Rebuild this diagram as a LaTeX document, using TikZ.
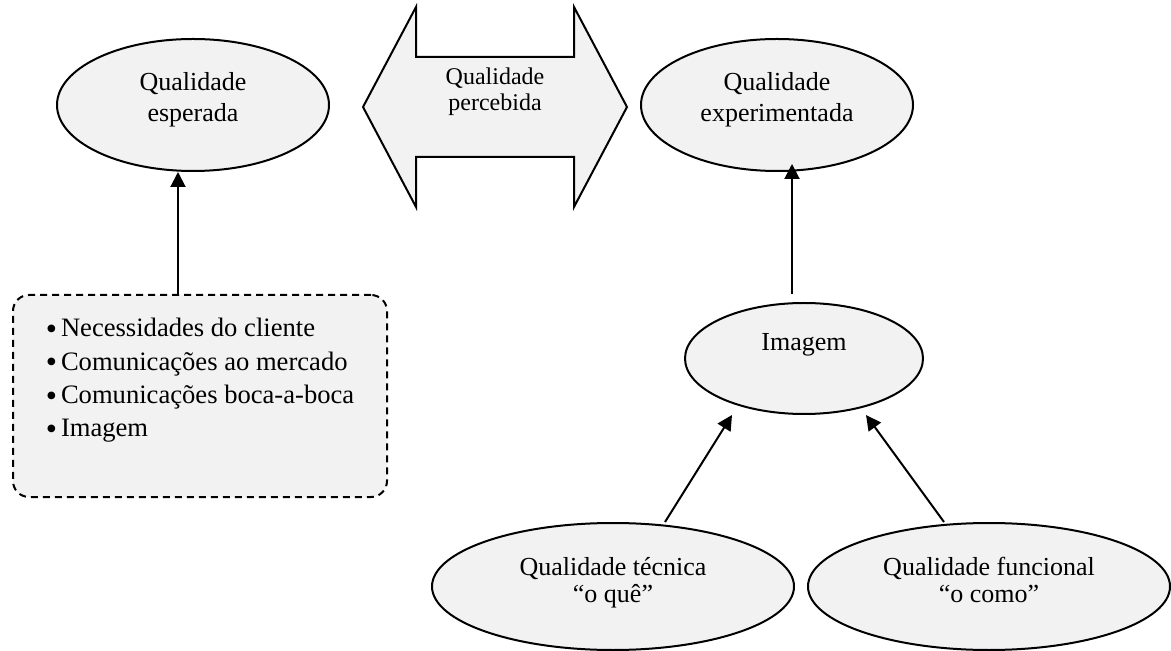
\documentclass[tikz,border=0pt]{standalone}
\usepackage{fontspec}
\setmainfont{Liberation Serif}
\usepackage{xcolor}
\usetikzlibrary{arrows.meta, shapes.geometric}
\definecolor{shapefill}{HTML}{F2F2F2}
\newcommand{\listdot}{\raisebox{-1.2pt}{\fontsize{16}{16}\selectfont\textbullet}\hspace{2pt}}

\begin{document}
\begin{tikzpicture}[
                x = 0.5pt, y = -0.5pt,
                qualnode/.style = {
                    ellipse,
                    draw            = black,
                    line width      = 1pt,
                    fill            = shapefill,
                    align           = center,
                    inner sep       = 2pt,
                    text depth      = 0pt,
                    font            = \fontsize{13}{15.5}\selectfont
                },
                notebox/.style = {
                    rectangle,
                    rounded corners = 8pt,
                    draw            = black,
                    dash pattern    = on 3.5pt off 2.5pt,
                    line width      = 1pt,
                    fill            = shapefill,
                    align           = left,
                    minimum width   = 187pt,
                    minimum height  = 101pt,
                    text height     = 41pt,
                    text depth      = 0pt,
                    font            = \fontsize{13.3}{16.67}\selectfont
                },
                linkarrow/.style = {-{Triangle[length=7.5pt, width=7.5pt]}, line width = 1pt}
            ]
                \useasboundingbox (0, 0) rectangle (1171, 651);

                % perceived quality, double arrow
                \draw[line width = 1pt, fill = shapefill]
                    (363, 107) -- (416, 7) -- (416, 57) -- (574, 57) -- (574, 7)
                    -- (627, 107) -- (574, 207) -- (574, 157) -- (416, 157)
                    -- (416, 207) -- cycle;
                \node[align = center, inner sep = 2pt, text height = 4pt, text depth = 0pt,
                      font = \fontsize{12}{13}\selectfont] (perc) at (495, 107)
                    {Qualidade\\percebida};

                \node[qualnode, minimum width = 136pt, minimum height = 66pt, text height = 17pt]
                    (esp) at (193, 105) {Qualidade\\esperada};
                \node[qualnode, minimum width = 136pt, minimum height = 66pt, text height = 17pt]
                    (exp) at (777, 105) {Qualidade\\experimentada};
                \node[qualnode, minimum width = 119pt, minimum height = 55.5pt,
                      text height = 9pt, text depth = 16.5pt]
                    (img) at (804, 358.5) {Imagem};
                \node[qualnode, minimum width = 181pt, minimum height = 63.5pt, text height = 15.5pt,
                      font = \fontsize{13}{13.5}\selectfont]
                    (tec) at (613, 586.5) {Qualidade técnica\\“o quê”};
                \node[qualnode, minimum width = 181pt, minimum height = 63.5pt, text height = 15.5pt,
                      font = \fontsize{13}{13.5}\selectfont]
                    (fun) at (989, 586.5) {Qualidade funcional\\“o como”};

                \node[notebox] (box) at (200, 396)
                    {\listdot Necessidades do cliente\\
                     \listdot Comunicações ao mercado\\
                     \listdot Comunicações boca-a-boca\\
                     \listdot Imagem};

                \draw[linkarrow] ([xshift = -11pt]box.north) -- ([xshift = -11pt]box.north |- esp.south);
                \draw[linkarrow] ([xshift = -6pt, yshift = 4pt]img.north)
                    -- ([xshift = -6pt, yshift = 4pt]img.north |- exp.south);
                \draw[linkarrow] ([xshift = 26pt]tec.north) -- ([xshift = -36pt]img.south);
                \draw[linkarrow] ([xshift = -22.5pt]fun.north) -- ([xshift = 31pt]img.south);
            \end{tikzpicture}
\end{document}
